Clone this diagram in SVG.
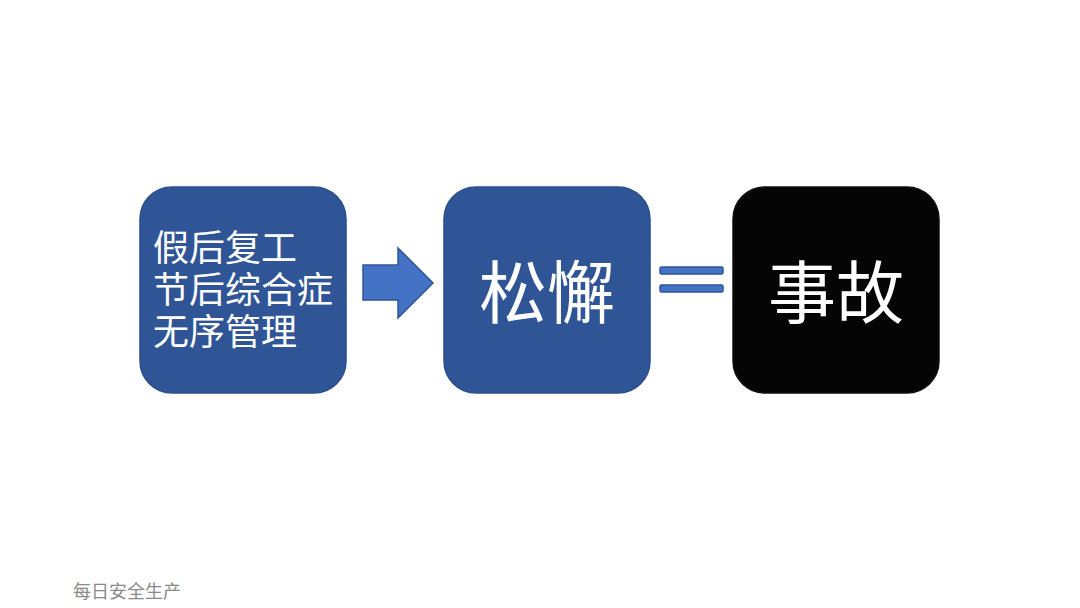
<svg xmlns="http://www.w3.org/2000/svg" width="1080" height="608" viewBox="0 0 1080 608">
<style>
.box{stroke-width:1.5}
.blue{fill:#2F5597;stroke:#2A4F8C}
.black{fill:#050505;stroke:#111}
.t{font-family:"Noto Sans CJK SC","Noto Sans CJK JP",sans-serif;fill:#fff}
.conn{fill:#4472C4;stroke:#2F5597;stroke-width:1.5}
</style>
<rect width="1080" height="608" fill="#fff"/>
<g id="node-causes">
<rect class="box blue" x="140" y="187" width="206" height="206" rx="32"/>
<text class="t" font-size="36"><tspan x="153" y="261">假后复工</tspan><tspan x="153" y="303">节后综合症</tspan><tspan x="153" y="345">无序管理</tspan></text>
</g>
<g id="node-slack">
<rect class="box blue" x="444" y="187" width="206" height="206" rx="32"/>
<text class="t" font-size="68" x="547" y="318" text-anchor="middle">松懈</text>
</g>
<g id="node-accident">
<rect class="box black" x="733" y="187" width="206" height="206" rx="32"/>
<text class="t" font-size="68" x="836" y="318" text-anchor="middle">事故</text>
</g>
<g id="connectors">
<polygon class="conn" points="363,265 398,265 398,248 433,283 398,318 398,300 363,300"/>
<rect class="conn" x="660" y="267" width="63" height="7" rx="1.5"/>
<rect class="conn" x="660" y="285" width="63" height="7" rx="1.5"/>
</g>
<text x="73" y="598" font-size="18" fill="#8a8a8a" font-family="Noto Sans CJK SC,sans-serif">每日安全生产</text>
</svg>
